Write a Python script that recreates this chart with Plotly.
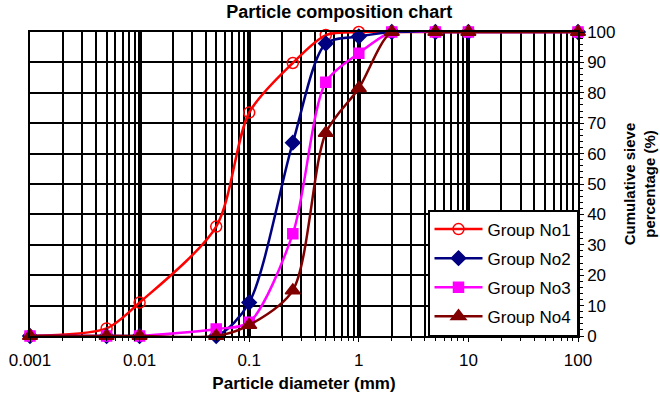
import plotly.graph_objects as go

diam = [0.001, 0.005, 0.01, 0.05, 0.1, 0.25, 0.5, 1, 2, 5, 10, 100]
g1 = [0, 2.5, 11, 36, 73.5, 89.8, 99, 100, 100, 100, 100, 100]
g2 = [0, 0, 0, 0, 11, 63.6, 96.2, 98.5, 100, 100, 100, 100]
g3 = [0, 0, 0, 2.3, 4.5, 33.6, 83.5, 93, 100, 100, 100, 100]
g4 = [0, 0, 0, 0, 3.6, 15, 66.8, 81.5, 100, 100, 100, 100]
names = ["Group No1", "Group No2", "Group No3", "Group No4"]
x_ticks = [0.001, 0.01, 0.1, 1, 10, 100]
x_ticktext = ["0.001", "0.01", "0.1", "1", "10", "100"]

styles = [
    dict(color="#FF0000", symbol="circle-open", size=11),
    dict(color="#000080", symbol="diamond", size=11),
    dict(color="#FF00FF", symbol="square", size=10),
    dict(color="#800000", symbol="triangle-up", size=13),
]

fig = go.Figure()
for i, (name, ys) in enumerate(zip(names, [g1, g2, g3, g4])):
    st = styles[i]
    fig.add_trace(go.Scatter(
        x=diam, y=ys, name=name, mode="lines+markers",
        line=dict(color=st["color"], width=2.5, shape="spline", smoothing=0.8),
        marker=dict(color=st["color"], symbol=st["symbol"], size=st["size"],
                    line=dict(color=st["color"], width=1.5)),
        cliponaxis=False, legendgroup=name,
    ))

fig.update_layout(
    width=660, height=401,
    margin=dict(l=30, r=82, t=32, b=65, autoexpand=False),
    paper_bgcolor="white", plot_bgcolor="white",
    font=dict(family="Arial, Liberation Sans, sans-serif", size=17, color="black"),
    title=dict(text="<b>Particle composition chart</b>", x=0.514, xanchor="center",
               y=0.97, yanchor="middle", font=dict(size=18)),
    showlegend=True,
    legend=dict(x=1.0, xanchor="right", y=0, yanchor="bottom",
                bgcolor="white", bordercolor="black", borderwidth=1.5,
                tracegroupgap=4, itemwidth=48, font=dict(size=17)),
    xaxis=dict(
        type="log", range=[-3, 2], automargin=False,
        tickvals=x_ticks, ticktext=x_ticktext,
        showgrid=True, gridcolor="black", gridwidth=3.5,
        showline=True, linecolor="black", linewidth=1.5, mirror=True,
        ticks="outside", ticklen=4, tickcolor="black", ticklabelstandoff=4,
        minor=dict(dtick="D1", showgrid=True, gridcolor="black", gridwidth=1.8,
                   ticks="outside", ticklen=3, tickcolor="black"),
        title=dict(text="<b>Particle diameter (mm)</b>", standoff=8, font=dict(size=17)),
        tickfont=dict(size=17),
        zeroline=False,
    ),
    yaxis=dict(
        side="right", range=[0, 100], dtick=10, automargin=False,
        showgrid=True, gridcolor="black", gridwidth=1.6,
        showline=True, linecolor="black", linewidth=1.5, mirror=True,
        ticks="outside", ticklen=4, tickcolor="black",
        minor=dict(dtick=2, ticks="outside", ticklen=3, tickcolor="black"),
        title=dict(text="<b>Cumulative sieve<br>percentage (%)</b>", standoff=10, font=dict(size=15)),
        tickfont=dict(size=17),
        zeroline=False,
    ),
)

fig.write_html("out.html")
